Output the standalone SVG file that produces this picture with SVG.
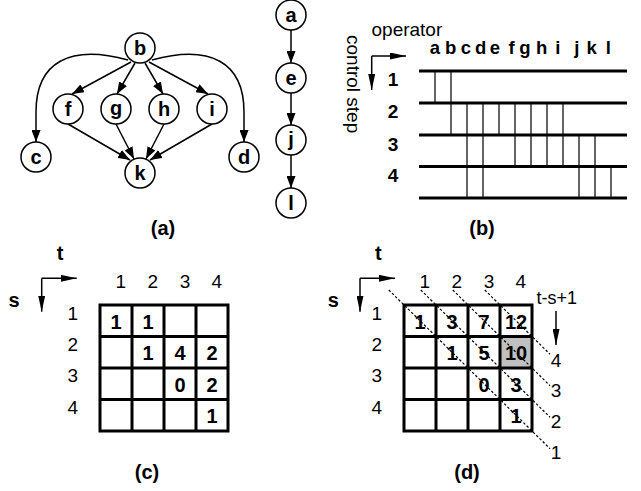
<svg xmlns="http://www.w3.org/2000/svg" width="641" height="491" viewBox="0 0 641 491">
<defs>
<style>
.n circle{fill:#fff;stroke:#000;stroke-width:1.5}
.n text,.lb{font-family:"Liberation Sans",Arial,sans-serif;font-weight:bold;font-size:20px;text-anchor:middle;fill:#000}
.e{fill:none;stroke:#000;stroke-width:1.5;marker-end:url(#ah)}
.ax{fill:none;stroke:#000;stroke-width:1.5;marker-end:url(#ax)}
.rg{font-family:"Liberation Sans",Arial,sans-serif;font-size:19px;text-anchor:middle;fill:#000}
.bd{font-family:"Liberation Sans",Arial,sans-serif;font-weight:bold;font-size:20px;text-anchor:middle;fill:#000}
.hl{stroke:#000;stroke-width:3}
.vl{stroke:#000;stroke-width:1.2}
.gr{fill:none;stroke:#000;stroke-width:3}
.dl{stroke:#000;stroke-width:1.2;stroke-dasharray:2.5,2}
</style>
<marker id="ah" viewBox="0 0 12 9" refX="12" refY="4.5" markerWidth="12" markerHeight="9" markerUnits="userSpaceOnUse" orient="auto"><path d="M0,0L12,4.5L0,9z"/></marker>
<marker id="ax" viewBox="0 0 16 7" refX="16" refY="3.5" markerWidth="16" markerHeight="7" markerUnits="userSpaceOnUse" orient="auto"><path d="M0,0L16,3.5L0,7z"/></marker>
</defs>

<!-- (a) connectors -->
<g id="connectors">
<path class="e" d="M128,60 C70,44 36,62 36,112 L36,142"/>
<path class="e" d="M152,60 C210,44 244,62 244,112 L244,142"/>
<path class="e" d="M131,62 L72,94"/>
<path class="e" d="M135,63 L117,94"/>
<path class="e" d="M145,63 L163,94"/>
<path class="e" d="M149,62 L208,94"/>
<path class="e" d="M68,124 L130,160"/>
<path class="e" d="M116,124 L134,159"/>
<path class="e" d="M164,124 L146,159"/>
<path class="e" d="M212,124 L150,160"/>
<path class="e" d="M291,30 L291,63"/>
<path class="e" d="M291,93 L291,125"/>
<path class="e" d="M291,155 L291,188"/>
</g>

<g id="node-b" class="n"><circle cx="140" cy="48" r="15"/><text x="140" y="55">b</text></g>
<g id="node-f" class="n"><circle cx="68" cy="109" r="15"/><text x="68" y="116">f</text></g>
<g id="node-g" class="n"><circle cx="116" cy="109" r="15"/><text x="116" y="115">g</text></g>
<g id="node-h" class="n"><circle cx="164" cy="109" r="15"/><text x="164" y="116">h</text></g>
<g id="node-i" class="n"><circle cx="212" cy="109" r="15"/><text x="212" y="116">i</text></g>
<g id="node-c" class="n"><circle cx="36" cy="157" r="15"/><text x="36" y="164">c</text></g>
<g id="node-d" class="n"><circle cx="244" cy="157" r="15"/><text x="244" y="164">d</text></g>
<g id="node-k" class="n"><circle cx="140" cy="173" r="15"/><text x="140" y="180">k</text></g>
<g id="node-a" class="n"><circle cx="291" cy="15" r="15"/><text x="291" y="22">a</text></g>
<g id="node-e" class="n"><circle cx="291" cy="78" r="15"/><text x="291" y="85">e</text></g>
<g id="node-j" class="n"><circle cx="291" cy="140" r="15"/><text x="291" y="146">j</text></g>
<g id="node-l" class="n"><circle cx="291" cy="203" r="15"/><text x="291" y="210">l</text></g>
<text class="lb" x="163" y="235">(a)</text>

<!-- (b) -->
<g id="schedule">
<text x="371.5" y="36" style="font-family:'Liberation Sans',Arial,sans-serif;font-size:19px">operator</text>
<text transform="translate(347,35) rotate(90)" style="font-family:'Liberation Sans',Arial,sans-serif;font-size:19px">control step</text>
<path class="ax" d="M371.7,56 L406,56"/>
<path class="ax" d="M371.7,56 L371.7,90"/>
<text class="bd" style="font-size:18.5px" x="435 450.7 466 480.7 495 511.7 525 541.7 557.7 576.7 591.7 608.3" y="54">abcdefghijkl</text>
<text class="bd" style="font-size:19px" x="393" y="86">1</text>
<text class="bd" style="font-size:19px" x="393" y="118">2</text>
<text class="bd" style="font-size:19px" x="393" y="151">3</text>
<text class="bd" style="font-size:19px" x="393" y="182">4</text>
<line class="hl" x1="419" y1="71" x2="627" y2="71"/>
<line class="hl" x1="419" y1="103" x2="627" y2="103"/>
<line class="hl" x1="419" y1="135" x2="627" y2="135"/>
<line class="hl" x1="419" y1="166.5" x2="627" y2="166.5"/>
<line class="hl" x1="419" y1="198" x2="627" y2="198"/>
<path class="vl" d="M435,71V103M451,71V103
M451,103V135M467,103V135M483,103V135M499,103V135M515,103V135M531,103V135M547,103V135M563,103V135
M467,135V166.5M483,135V166.5M515,135V166.5M531,135V166.5M547,135V166.5M563,135V166.5M579,135V166.5M595,135V166.5
M467,166.5V198M483,166.5V198M579,166.5V198M595,166.5V198M611,166.5V198"/>
</g>
<text class="lb" x="482" y="235">(b)</text>

<!-- (c) -->
<g id="grid-c">
<text class="bd" x="60" y="260">t</text>
<text class="bd" x="14" y="307">s</text>
<path class="ax" d="M41.7,278.3 L76.7,278.3"/>
<path class="ax" d="M41.7,278.3 L41.7,311.7"/>
<text class="rg" x="120.7" y="288">1</text>
<text class="rg" x="152.7" y="288">2</text>
<text class="rg" x="185" y="288">3</text>
<text class="rg" x="216.7" y="288">4</text>
<text class="rg" x="72.7" y="319.5">1</text>
<text class="rg" x="72.7" y="351">2</text>
<text class="rg" x="72.7" y="382">3</text>
<text class="rg" x="72.7" y="413.5">4</text>
<path class="gr" d="M100,305H228V431H100Z M132,305V431 M164,305V431 M196,305V431 M100,336.5H228 M100,368H228 M100,399.5H228"/>
<text class="bd" x="116" y="328.5">1</text>
<text class="bd" x="148" y="328.5">1</text>
<text class="bd" x="148" y="360">1</text>
<text class="bd" x="180" y="360">4</text>
<text class="bd" x="212" y="360">2</text>
<text class="bd" x="180" y="391.5">0</text>
<text class="bd" x="212" y="391.5">2</text>
<text class="bd" x="212" y="423">1</text>
</g>
<text class="lb" x="147" y="479">(c)</text>

<!-- (d) -->
<g id="grid-d">
<text class="bd" x="378.3" y="260">t</text>
<text class="bd" x="333.3" y="307">s</text>
<path class="ax" d="M360,278.3 L395,278.3"/>
<path class="ax" d="M360,278.3 L360,311.7"/>
<text class="rg" x="424.7" y="288">1</text>
<text class="rg" x="456.7" y="288">2</text>
<text class="rg" x="489" y="288">3</text>
<text class="rg" x="520.7" y="288">4</text>
<text class="rg" x="376.7" y="319.5">1</text>
<text class="rg" x="376.7" y="351">2</text>
<text class="rg" x="376.7" y="382">3</text>
<text class="rg" x="376.7" y="413.5">4</text>
<rect x="500" y="336.5" width="32" height="31.5" fill="#c0c0c0"/>
<path class="gr" d="M404,305H532V431H404Z M436,305V431 M468,305V431 M500,305V431 M404,336.5H532 M404,368H532 M404,399.5H532"/>
<text class="bd" x="420" y="328.5">1</text>
<text class="bd" x="452" y="328.5">3</text>
<text class="bd" x="484" y="328.5">7</text>
<text class="bd" x="516" y="328.5">12</text>
<text class="bd" x="452" y="360">1</text>
<text class="bd" x="484" y="360">5</text>
<text class="bd" x="516" y="360">10</text>
<text class="bd" x="484" y="391.5">0</text>
<text class="bd" x="516" y="391.5">3</text>
<text class="bd" x="516" y="423">1</text>
<line class="dl" x1="388.8" y1="290" x2="550" y2="448.7"/>
<line class="dl" x1="420.8" y1="290" x2="550" y2="417.2"/>
<line class="dl" x1="452.8" y1="290" x2="550" y2="385.7"/>
<line class="dl" x1="484.8" y1="290" x2="550" y2="354.2"/>
<text class="rg" style="font-size:18px" x="556.7" y="304">t-s+1</text>
<path class="ax" d="M556,311 L556,345"/>
<text class="rg" x="556" y="366.5">4</text>
<text class="rg" x="556" y="397">3</text>
<text class="rg" x="556" y="428">2</text>
<text class="rg" x="556" y="459">1</text>
</g>
<text class="lb" x="467" y="479">(d)</text>
</svg>
